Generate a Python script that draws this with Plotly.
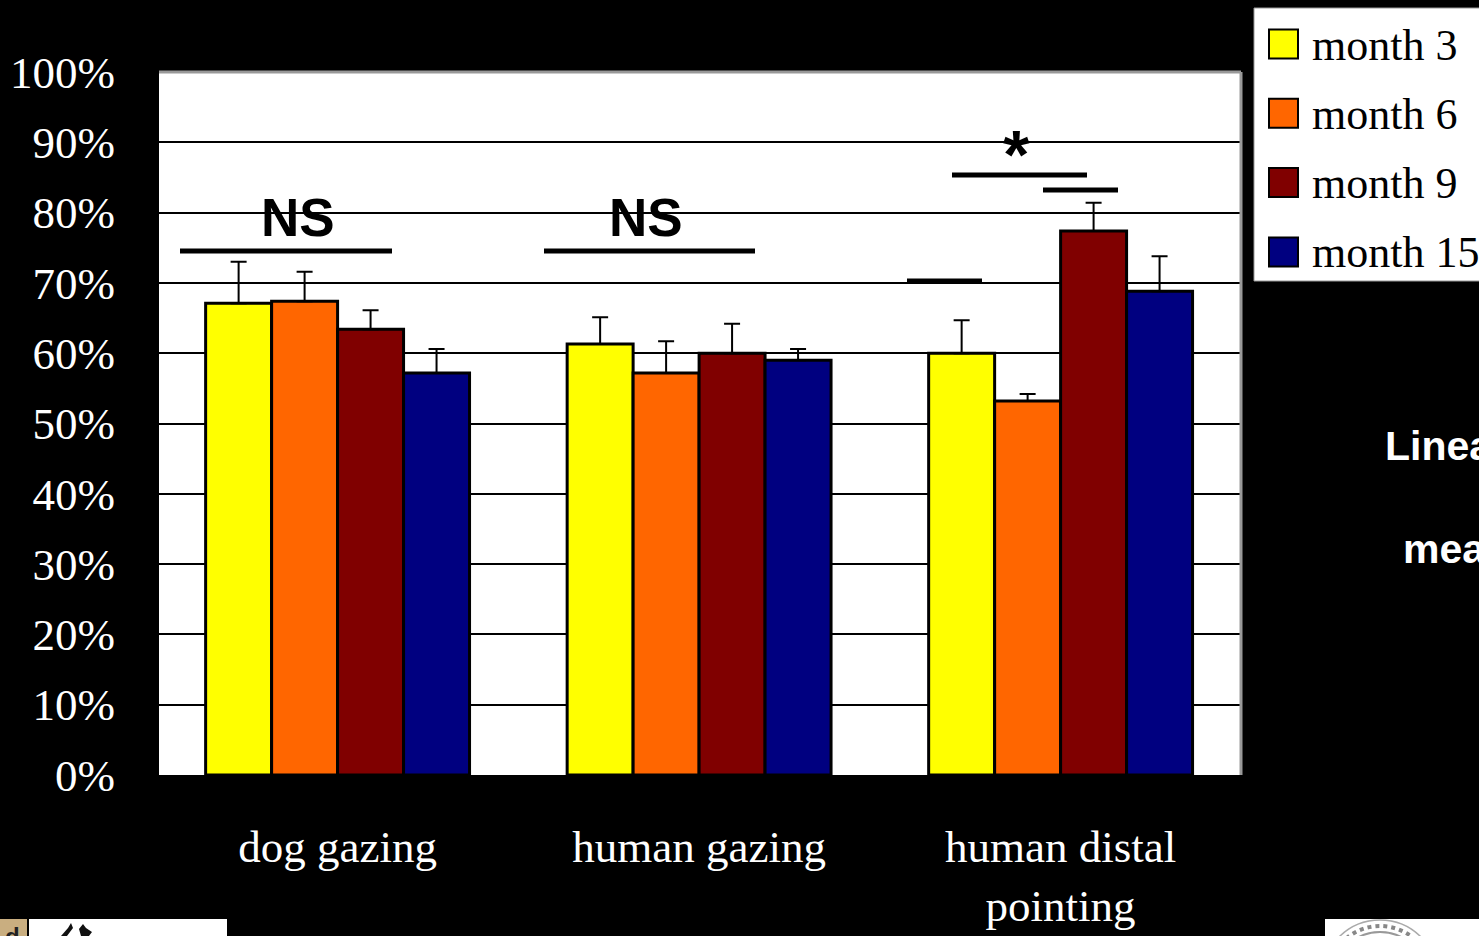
import plotly.graph_objects as go

categories = ["dog gazing", "human gazing", "human distal<br>pointing"]
series_names = ["month 3", "month 6", "month 9", "month 15"]
colors = ["#FFFF00", "#FF6600", "#800000", "#000080"]
month_3 = [0.671, 0.613, 0.600]
month_6 = [0.674, 0.572, 0.532]
month_9 = [0.634, 0.600, 0.774]
month_15 = [0.572, 0.590, 0.688]
err_3 = [0.059, 0.038, 0.047]
err_6 = [0.042, 0.045, 0.010]
err_9 = [0.027, 0.042, 0.040]
err_15 = [0.034, 0.016, 0.050]
y_ticks = [i / 10 for i in range(11)]

W, H = 1479, 936
L, R, T, B = 159, 1241, 72, 775


def px(x):
    return (x - L) / (R - L)


def py(y):
    return (B - y) / (B - T)


fig = go.Figure()
for name, vals, errs, col in zip(series_names, [month_3, month_6, month_9, month_15],
                                 [err_3, err_6, err_9, err_15], colors):
    fig.add_bar(
        x=categories, y=vals, name=name,
        marker=dict(color=col, line=dict(color="black", width=3)),
        error_y=dict(type="data", array=errs, symmetric=False, arrayminus=[0, 0, 0],
                     color="black", thickness=2, width=8),
    )

shapes = []
annotations = []


def rect(x0, y0, x1, y1, fill, line=None, lw=0):
    shapes.append(dict(type="rect", xref="paper", yref="paper",
                       x0=px(x0), x1=px(x1), y0=py(y1), y1=py(y0),
                       fillcolor=fill, line=dict(color=line or fill, width=lw), layer="above"))


def circle(cx, cy, r, color, lw, dash="solid"):
    shapes.append(dict(type="circle", xref="paper", yref="paper",
                       x0=px(cx - r), x1=px(cx + r), y0=py(cy + r), y1=py(cy - r),
                       line=dict(color=color, width=lw, dash=dash), layer="above"))


def poly(points, fill):
    d = "M" + " L".join(f"{px(x):.5f},{py(y):.5f}" for x, y in points) + " Z"
    shapes.append(dict(type="path", xref="paper", yref="paper", path=d,
                       fillcolor=fill, line=dict(color=fill, width=0), layer="above"))


def text(x, y, s, size, family, color="black", bold=False, anchor="left"):
    annotations.append(dict(xref="paper", yref="paper", x=px(x), y=py(y), text=f"<b>{s}</b>" if bold else s,
                            showarrow=False, xanchor=anchor, yanchor="middle",
                            font=dict(size=size, family=family, color=color)))


# significance bars
for x0, x1, y in [(180, 392, 251), (544, 755, 251), (952, 1087, 175), (1043, 1118, 190), (907, 982, 281)]:
    rect(x0, y - 2.5, x1, y + 2.5, "black")
text(298, 218, "NS", 53, "Liberation Sans", bold=True, anchor="center")
text(645.5, 218, "NS", 53, "Liberation Sans", bold=True, anchor="center")
text(1016, 154, "*", 68, "Liberation Sans", bold=True, anchor="center")

# legend panel
rect(1254, 8, 1485, 281, "white", "#999999", 1)
for i, (name, col) in enumerate(zip(series_names, colors)):
    cy = 44 + i * 69.3
    rect(1269, cy - 14.5, 1298, cy + 14.5, col, "black", 2)
    text(1310, cy + 1, name, 44, "Liberation Serif")

# cut-off side text
text(1383, 446, "Linea", 41, "Liberation Sans", color="white", bold=True)
text(1401, 549, "mea", 41, "Liberation Sans", color="white", bold=True)

# footer logo fragments
rect(0, 919, 27, 940, "#C9AE80")
text(3, 936, "d", 24, "Liberation Sans", color="#222222", bold=True)
rect(29, 919, 227, 940, "white")
poly([(61, 936), (68, 928), (71, 923), (73, 928), (67, 936)], "#111111")
poly([(79, 929), (83, 924), (86, 928), (92, 932), (89, 936), (81, 936)], "#111111")
rect(1325, 919, 1485, 940, "white")
circle(1380, 978, 58, "#AAAAAA", 1.5)
circle(1380, 978, 52, "#888888", 4, "dot")
circle(1380, 978, 46, "#999999", 2)

fig.update_layout(
    width=W, height=H, autosize=False,
    barmode="group", bargap=0.27, bargroupgap=0,
    showlegend=False,
    paper_bgcolor="black", plot_bgcolor="white",
    margin=dict(l=L, r=W - R, t=T, b=H - B, pad=0, autoexpand=False),
    font=dict(family="Liberation Serif", color="white", size=45),
    shapes=shapes, annotations=annotations,
    xaxis=dict(type="category", range=[-0.494, 2.499], ticks="outside", ticklen=31, tickcolor="black", tickwidth=1,
               showgrid=False, zeroline=False, showline=True, linecolor="black", linewidth=2,
               tickfont=dict(size=45, family="Liberation Serif", color="white"), tickangle=0, mirror=False),
    yaxis=dict(range=[0, 1], tickvals=y_ticks, tickformat=".0%", ticks="outside", ticklen=33,
               tickcolor="black", tickwidth=1, showgrid=True, gridcolor="black", gridwidth=2,
               zeroline=False, showline=True, linecolor="black", linewidth=2,
               tickfont=dict(size=45, family="Liberation Serif", color="white")),
)
# grey frame on top and right of the plot area
fig.add_shape(type="line", xref="paper", yref="paper", x0=0, x1=1, y0=1, y1=1, line=dict(color="#999999", width=3))
fig.add_shape(type="line", xref="paper", yref="paper", x0=1, x1=1, y0=0, y1=1, line=dict(color="#999999", width=3))

fig.write_html("out.html", config=dict(displayModeBar=False),
               post_script="document.body.style.margin='0';document.documentElement.style.overflow='hidden';")
